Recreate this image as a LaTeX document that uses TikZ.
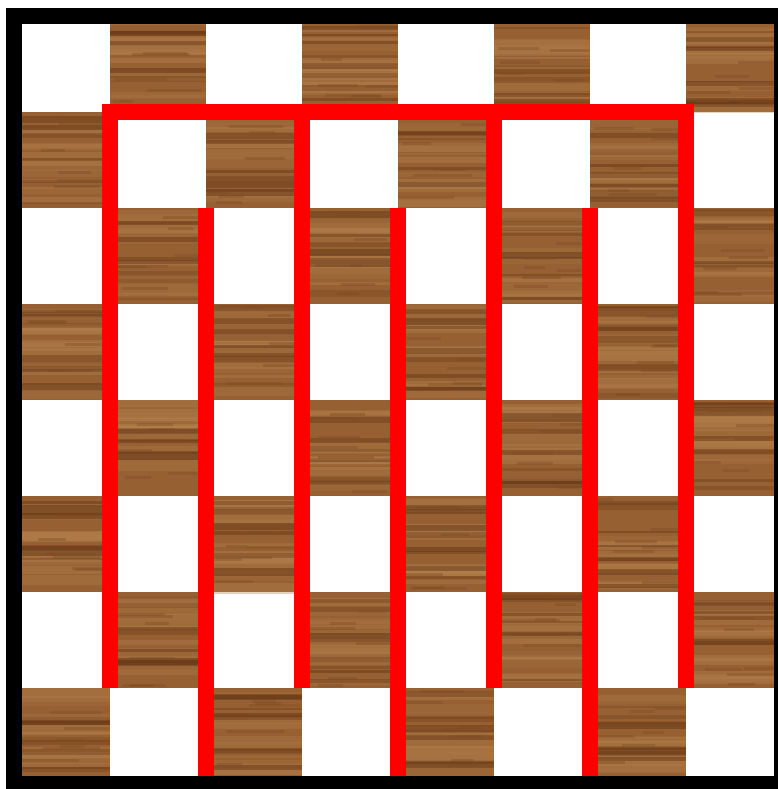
\documentclass[tikz,border=0pt]{standalone}
\begin{document}
\definecolor{woodbase}{RGB}{150,96,50}
\definecolor{wooddark}{RGB}{98,52,20}
\definecolor{woodlight}{RGB}{182,132,80}
\definecolor{woodmid}{RGB}{124,74,34}
\tikzset{
  redline/.style={draw=red, line width=16pt, line cap=butt, line join=miter},
  woodsq/.style={fill=woodbase},
}
\begin{tikzpicture}[x=1pt,y=-1pt]
\useasboundingbox (0,0) rectangle (778,789);
\fill[white] (0,0) rectangle (778,789);
\fill[black] (6,8) rectangle (778,789);
\fill[white] (22,24) rectangle (774,776);
\pgfmathsetseed{4242}
\foreach \r in {0,...,7}{
  \foreach \c in {0,...,7}{
    \pgfmathtruncatemacro\odd{mod(\r+\c,2)}
    \ifnum\odd=1
      \pgfmathsetmacro\xa{min(max(14+96*\c,22),774)}
      \pgfmathsetmacro\xb{min(max(14+96*(\c+1),22),774)}
      \pgfmathsetmacro\ya{min(max(16+96*\r,24),776)}
      \pgfmathsetmacro\yb{min(max(16+96*(\r+1),24),776)}
      \fill[woodsq] (\xa,\ya) rectangle (\xb,\yb);
      \foreach \k in {1,...,12}{
        \pgfmathsetmacro\yy{\ya+rnd*(\yb-\ya-8)}
        \pgfmathsetmacro\hh{3+rnd*8}
        \pgfmathsetmacro\op{0.15+0.25*rnd}
        \fill[woodlight, opacity=\op] (\xa,\yy) rectangle (\xb,\yy+\hh);
      }
      \foreach \k in {1,...,8}{
        \pgfmathsetmacro\yy{\ya+rnd*(\yb-\ya-6)}
        \pgfmathsetmacro\hh{2+rnd*5}
        \pgfmathsetmacro\op{0.2+0.3*rnd}
        \fill[wooddark, opacity=\op] (\xa,\yy) rectangle (\xb,\yy+\hh);
      }
      \foreach \k in {1,...,6}{
        \pgfmathsetmacro\yy{\ya+rnd*(\yb-\ya-4)}
        \pgfmathsetmacro\xx{\xa+rnd*(\xb-\xa-30)}
        \pgfmathsetmacro\ww{20+rnd*40}
        \pgfmathsetmacro\xe{min(\xx+\ww,\xb)}
        \fill[woodmid, opacity=0.35] (\xx,\yy) rectangle (\xe,\yy+3);
      }
    \fi
  }
}
\draw[redline] (110,688) -- (110,112) -- (686,112) -- (686,688);
\draw[redline] (302,112) -- (302,688);
\draw[redline] (494,112) -- (494,688);
\draw[redline] (206,208) -- (206,776);
\draw[redline] (398,208) -- (398,776);
\draw[redline] (590,208) -- (590,776);
\end{tikzpicture}
\end{document}
